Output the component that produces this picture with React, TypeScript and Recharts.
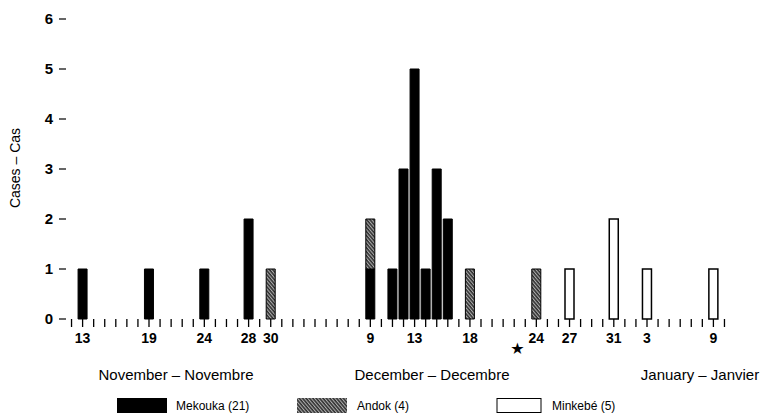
import { Bar, BarChart, XAxis, YAxis } from 'recharts';

// calendar days shown on the axis, one tick each
const novemberDays = [12, 13, 14, 15, 16, 17, 18, 19, 20, 21, 22, 23, 24, 25, 26, 27, 28, 29, 30];
const decemberDays = [1, 2, 3, 4, 5, 6, 7, 8, 9, 10, 11, 12, 13, 14, 15, 16, 17, 18, 19, 20, 21, 22, 23, 24, 25, 26, 27, 28, 29, 30, 31];
const januaryDays = [1, 2, 3, 4, 5, 6, 7, 8, 9, 10];

const labelledDays = ['Nov 13', 'Nov 19', 'Nov 24', 'Nov 28', 'Nov 30', 'Dec 9', 'Dec 13', 'Dec 18', 'Dec 24', 'Dec 27', 'Dec 31', 'Jan 3', 'Jan 9'];
const starredDay = 'Dec 24';

const mekoukaDates = ['Nov 13', 'Nov 19', 'Nov 24', 'Nov 28', 'Dec 9', 'Dec 11', 'Dec 12', 'Dec 13', 'Dec 14', 'Dec 15', 'Dec 16'];
const mekoukaCases = [1, 1, 1, 2, 1, 1, 3, 5, 1, 3, 2];
const andokDates = ['Nov 30', 'Dec 9', 'Dec 18', 'Dec 24'];
const andokCases = [1, 1, 1, 1];
const minkebeDates = ['Dec 27', 'Dec 31', 'Jan 3', 'Jan 9'];
const minkebeCases = [1, 2, 1, 1];

const yTicks = [0, 1, 2, 3, 4, 5, 6];

const pick = (dates: string[], cases: number[], key: string) => {
  const i = dates.indexOf(key);
  return i < 0 ? null : cases[i];
};

const categories = [
  ...novemberDays.map((d) => ({ key: `Nov ${d}`, day: d })),
  ...decemberDays.map((d) => ({ key: `Dec ${d}`, day: d })),
  ...januaryDays.map((d) => ({ key: `Jan ${d}`, day: d })),
];

const data = categories.map((c) => ({
  ...c,
  mekouka: pick(mekoukaDates, mekoukaCases, c.key),
  andok: pick(andokDates, andokCases, c.key),
  minkebe: pick(minkebeDates, minkebeCases, c.key),
}));

const FONT = '"Liberation Sans", Arial, sans-serif';

function DayTick(props: any) {
  const { x, y, payload } = props;
  const key = payload.value as string;
  if (!labelledDays.includes(key)) return null;
  const day = key.split(' ')[1];
  return (
    <g>
      <text x={x} y={y} dy={14} textAnchor="middle" fontFamily={FONT} fontWeight="bold" fontSize={14} fill="#000">
        {day}
      </text>
      {key === starredDay && (
        <text x={x - 19} y={y} dy={25} textAnchor="middle" fontFamily="DejaVu Sans" fontSize={16} fill="#000">
          ★
        </text>
      )}
    </g>
  );
}

function HatchPattern({ id }: { id: string }) {
  return (
    <pattern id={id} width="2.6" height="2.6" patternUnits="userSpaceOnUse" patternTransform="rotate(-40)">
      <rect width="2.6" height="2.6" fill="#2e2e2e" />
      <line x1="0.6" y1="0" x2="0.6" y2="2.6" stroke="#c8c8c8" strokeWidth="0.9" />
    </pattern>
  );
}

export default function App() {
  return (
    <div style={{ position: 'absolute', left: 0, top: 0, width: 760, height: 414, background: '#fff' }}>
      <BarChart width={760} height={414} data={data} barSize={9} margin={{ top: 19, right: 30, bottom: 0, left: 0 }}>
        <defs>
          <HatchPattern id="andokHatch" />
        </defs>
        <XAxis
          dataKey="key"
          interval={0}
          height={95}
          axisLine={false}
          tickLine={{ stroke: '#000', strokeWidth: 1.3 }}
          tickSize={8}
          tick={<DayTick />}
        />
        <YAxis
          width={66}
          domain={[0, 6]}
          ticks={yTicks}
          axisLine={false}
          tickLine={{ stroke: '#000', strokeWidth: 1.2 }}
          tickSize={7}
          tickMargin={6}
          tick={{ fill: '#000', fontFamily: FONT, fontWeight: 'bold', fontSize: 15 }}
        />
        <Bar dataKey="mekouka" stackId="a" fill="#000" stroke="#000" strokeWidth={1} isAnimationActive={false} />
        <Bar dataKey="andok" stackId="a" fill="url(#andokHatch)" stroke="#000" strokeWidth={1} isAnimationActive={false} />
        <Bar dataKey="minkebe" stackId="a" fill="#fff" stroke="#000" strokeWidth={1.5} isAnimationActive={false} />
      </BarChart>

      <svg width={760} height={414} style={{ position: 'absolute', left: 0, top: 0, pointerEvents: 'none' }}>
        <defs>
          <HatchPattern id="legendHatch" />
        </defs>
        <text transform="translate(20,168) rotate(-90)" textAnchor="middle" fontFamily={FONT} fontSize={14} fill="#000">
          Cases – Cas
        </text>
        <g fontFamily={FONT} fontSize={15} fill="#000">
          <text x={176} y={380} textAnchor="middle">November – Novembre</text>
          <text x={432} y={380} textAnchor="middle">December – Decembre</text>
          <text x={700} y={380} textAnchor="middle">January – Janvier</text>
        </g>
        <g fontFamily={FONT} fontSize={12} fill="#000">
          <rect x={117} y={398} width={50} height={15} fill="#000" />
          <text x={176} y={410}>Mekouka (21)</text>
          <rect x={297} y={398} width={50} height={15} fill="url(#legendHatch)" />
          <text x={357} y={410}>Andok (4)</text>
          <rect x={497} y={398.5} width={44} height={14} fill="#fff" stroke="#000" strokeWidth={1} />
          <text x={552} y={410}>Minkebé (5)</text>
        </g>
      </svg>
    </div>
  );
}
